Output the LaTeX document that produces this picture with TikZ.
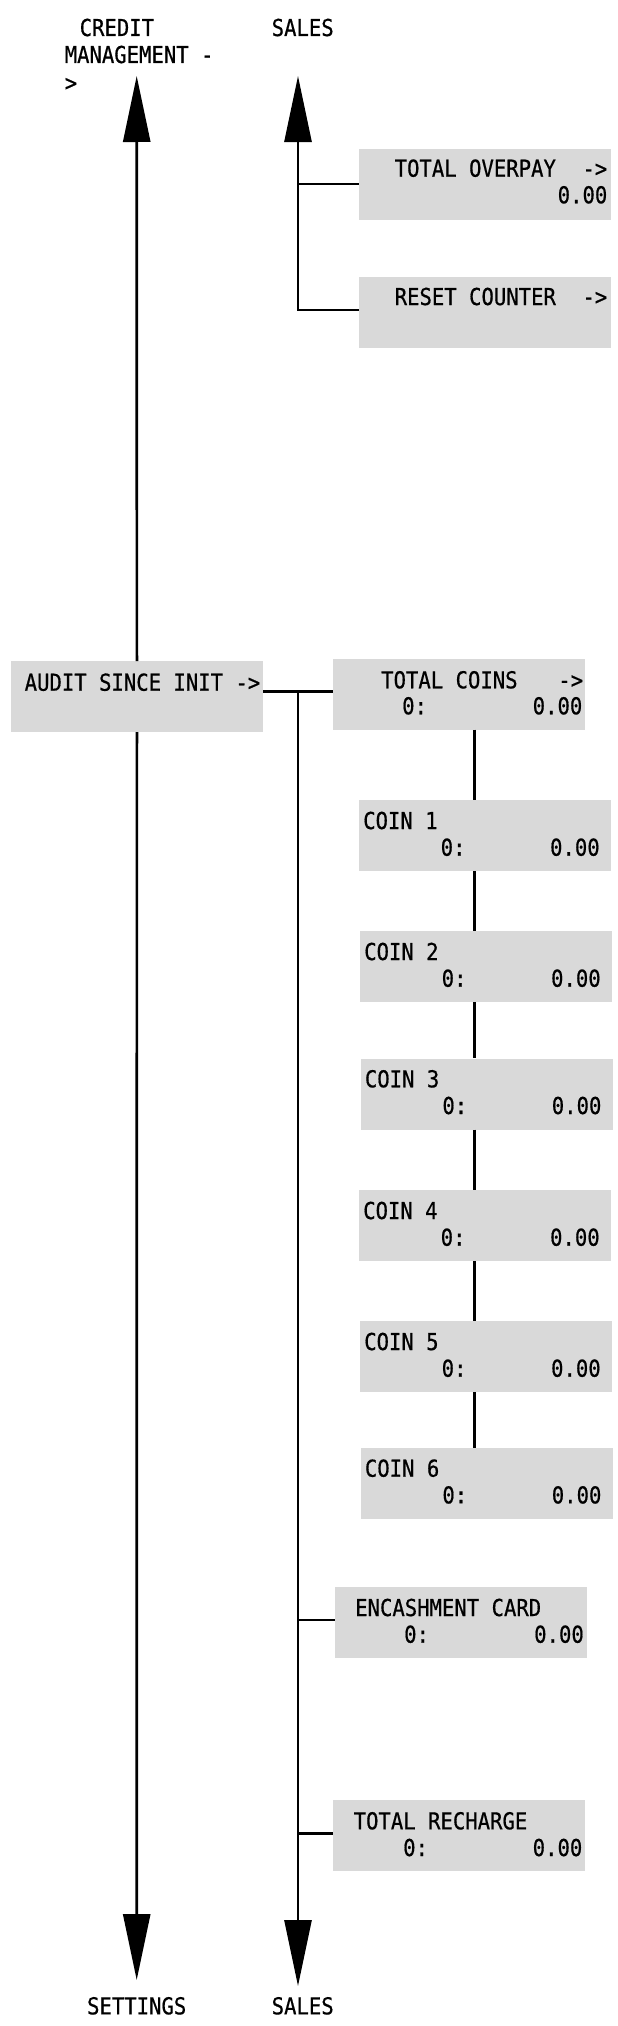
\documentclass[tikz,border=0pt]{standalone}
\usepackage{fontspec}
\usetikzlibrary{arrows.meta,calc}
\newfontfamily\lcdfont{DejaVu Sans Mono}[FakeStretch=0.884,FakeBold=0.6]
\definecolor{boxgray}{HTML}{D9D9D9}
\begin{document}
\begin{tikzpicture}[x=1pt,y=-1pt,
  gbox/.style={fill=boxgray, draw=none, inner sep=0pt, anchor=north west, minimum width=252pt, minimum height=71pt},
  txt/.style={inner sep=0pt, font=\lcdfont\fontsize{23.3pt}{27.5pt}\selectfont},
  conn/.style={line width=2.7pt},
  arr/.style={line width=2.7pt, -{Triangle[length=66pt,width=27pt]}}]
\useasboundingbox (0,0) rectangle (618,2026);

% boxes
\node[gbox] (overpay) at (359,149) {};
\node[gbox] (reset) at (359,277) {};
\node[gbox, minimum height=70.7pt] (audit) at (10.7,661) {};
\node[gbox] (tcoins) at (333,658.3) {};
\node[gbox] (coin1) at (359,800) {};
\node[gbox] (coin2) at (360,931) {};
\node[gbox] (coin3) at (360.7,1058.3) {};
\node[gbox] (coin4) at (359,1190) {};
\node[gbox] (coin5) at (360,1321) {};
\node[gbox] (coin6) at (360.7,1447.7) {};
\node[gbox] (enc) at (334.7,1586.7) {};
\node[gbox] (rech) at (333,1800) {};

% coordinates
\coordinate (ltop) at (136.7,76);
\coordinate (lbot) at (136.7,1980);
\coordinate (stop) at (298,76);
\coordinate (sbot) at (298,1986);
\coordinate (ojoin) at (298,184);
\coordinate (scorner) at (298,310);
\coordinate (sjoin) at (298,691.7);
\coordinate (ejoin) at (298,1620);
\coordinate (rjoin) at (298,1833.3);
\coordinate (cx) at (474.7,0);

% connectors
\draw[arr] (audit.north) -- (ltop);
\draw[arr] (audit.south) -- (lbot);
\draw[arr] (reset.west |- scorner) -- (scorner) -- (stop);
\draw[conn] (ojoin) -- (overpay.west |- ojoin);
\draw[conn] (audit.east |- sjoin) -- (tcoins.west |- sjoin);
\draw[arr] (sjoin) -- (sbot);
\draw[conn] (ejoin) -- (enc.west |- ejoin);
\draw[conn] (rjoin) -- (rech.west |- rjoin);
\draw[conn] (tcoins.south -| cx) -- (coin1.north -| cx);
\draw[conn] (coin1.south -| cx) -- (coin2.north -| cx);
\draw[conn] (coin2.south -| cx) -- (coin3.north -| cx);
\draw[conn] (coin3.south -| cx) -- (coin4.north -| cx);
\draw[conn] (coin4.south -| cx) -- (coin5.north -| cx);
\draw[conn] (coin5.south -| cx) -- (coin6.north -| cx);

% labels
\node[txt, anchor=base west] (cm1) at (79.5,36) {CREDIT};
\node[txt, anchor=base west] (cm2) at (64.5,63) {MANAGEMENT -};
\node[txt, anchor=base west] (cm3) at (64.5,91) {>};
\node[txt, anchor=base] (salestop) at (302.7,36) {SALES};
\node[txt, anchor=base] (settings) at (136.7,2014.3) {SETTINGS};
\node[txt, anchor=base] (salesbot) at (302.7,2014.3) {SALES};

% box texts
\node[txt, anchor=base west] (op1) at (394.5,176.7) {TOTAL OVERPAY};
\node[txt, anchor=base east] (op2) at (607.5,176.7) {->};
\node[txt, anchor=base east] (op3) at (607.5,203.3) {0.00};
\node[txt, anchor=base west] (rs1) at (394.5,305) {RESET COUNTER};
\node[txt, anchor=base east] (rs2) at (607.5,305) {->};
\node[txt, anchor=base east] (au1) at (260.5,690.7) {AUDIT SINCE INIT ->};
\node[txt, anchor=base west] (tc1) at (381,688.3) {TOTAL COINS};
\node[txt, anchor=base east] (tc2) at (583.3,688.3) {->};
\node[txt, anchor=base west] (tc3) at (402,714.3) {0:};
\node[txt, anchor=base east] (tc4) at (582.5,714.3) {0.00};
\foreach \c/\n in {coin1/1,coin2/2,coin3/3,coin4/4,coin5/5,coin6/6}{
  \node[txt, anchor=base west] (\c a) at ($(\c.north west)+(4,29)$) {COIN \n};
  \node[txt, anchor=base west] (\c b) at ($(\c.north west)+(81.5,55.7)$) {0:};
  \node[txt, anchor=base east] (\c c) at ($(\c.north east)+(-11.5,55.7)$) {0.00};
}
\node[txt, anchor=base west] (en1) at (355,1616) {ENCASHMENT CARD};
\node[txt, anchor=base west] (en2) at (404,1642.7) {0:};
\node[txt, anchor=base east] (en3) at (584,1642.7) {0.00};
\node[txt, anchor=base west] (re1) at (353.5,1829.3) {TOTAL RECHARGE};
\node[txt, anchor=base west] (re2) at (403,1856) {0:};
\node[txt, anchor=base east] (re3) at (582.5,1856) {0.00};
\end{tikzpicture}
\end{document}
